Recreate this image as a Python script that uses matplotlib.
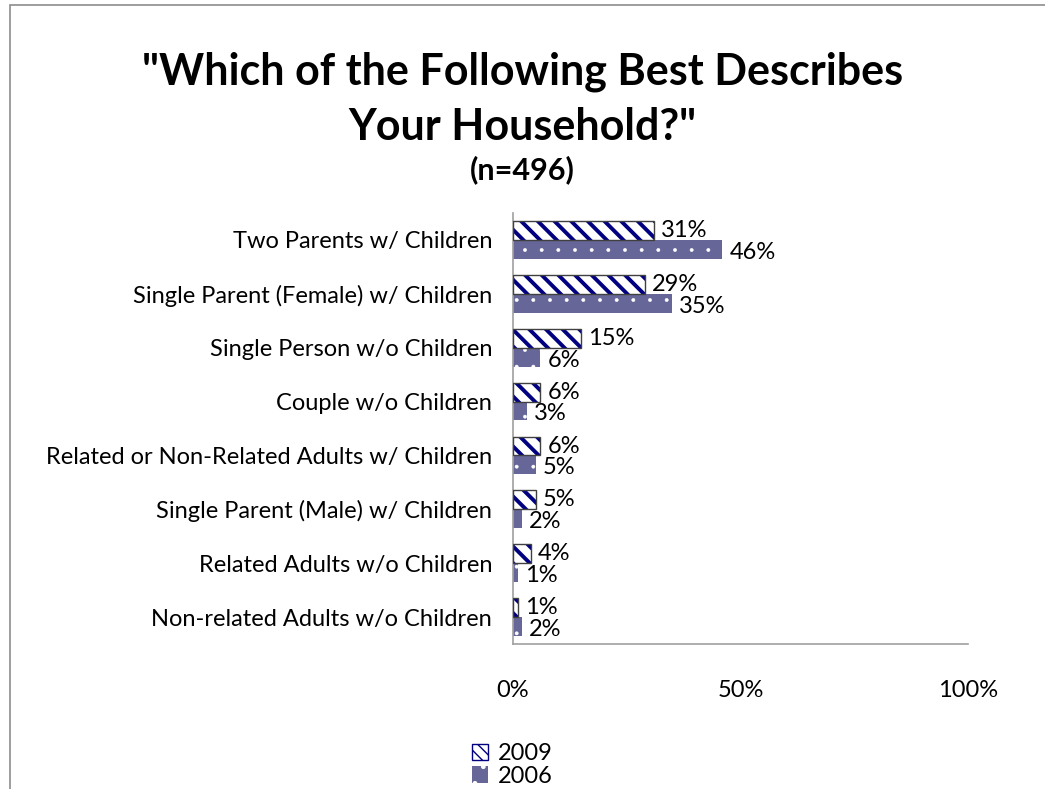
import matplotlib
matplotlib.use("Agg")
import matplotlib.pyplot as plt
import numpy as np
from matplotlib.patches import Rectangle, Patch

categories = [
    "Two Parents w/ Children",
    "Single Parent (Female) w/ Children",
    "Single Person w/o Children",
    "Couple w/o Children",
    "Related or Non-Related Adults w/ Children",
    "Single Parent (Male) w/ Children",
    "Related Adults w/o Children",
    "Non-related Adults w/o Children",
]
values_2009 = [31, 29, 15, 6, 6, 5, 4, 1]
values_2006 = [46, 35, 6, 3, 5, 2, 1, 2]
series_names = ["2009", "2006"]
tick_values = [0, 50, 100]
tick_labels = ["0%", "50%", "100%"]

FONT = ["Lato", "DejaVu Sans"]
plt.rcParams["font.family"] = FONT
FS = 17

W, H = 1045, 789
fig = plt.figure(figsize=(W / 100, H / 100), dpi=100)
ax = fig.add_axes([513 / W, 1 - 644 / H, (968 - 513) / W, (644 - 213) / H])

n = len(categories)
y = np.arange(n)
bh = 0.35
navy = "#000080"
purple = "#666699"

y09 = y - bh / 2
y06 = y + bh / 2

# 2009: white with navy diagonal stripes
with plt.rc_context({"hatch.linewidth": 2.8}):
    ax.barh(y09, values_2009, height=bh, color="white", edgecolor=navy,
            hatch="\\\\", linewidth=0, zorder=2)
    h09 = Patch(facecolor="white", edgecolor=navy, hatch="\\\\\\", linewidth=1.0)
ax.barh(y09, values_2009, height=bh, color="none", edgecolor="#404040",
        linewidth=1.0, zorder=3)
# 2006: purple with white dots
with plt.rc_context({"hatch.linewidth": 0.3}):
    ax.barh(y06, values_2006, height=bh, color=purple, edgecolor="white",
            hatch=".", linewidth=0, zorder=2)
    h06 = Patch(facecolor=purple, edgecolor="white", hatch=".", linewidth=0)

for yy, v in zip(y09, values_2009):
    ax.annotate(f"{v}%", (v, yy), xytext=(7, 0), textcoords="offset pixels",
                ha="left", va="center", fontsize=FS, color="black")
for yy, v in zip(y06, values_2006):
    ax.annotate(f"{v}%", (v, yy), xytext=(7, -3), textcoords="offset pixels",
                ha="left", va="center", fontsize=FS, color="black")

ax.set_xlim(0, 100)
ax.set_ylim(n - 0.5, -0.5)
ax.set_yticks(y)
ax.set_yticklabels(categories, fontsize=FS)
ax.set_xticks(tick_values)
ax.set_xticklabels(tick_labels, fontsize=FS)
ax.tick_params(axis="both", length=0)
ax.tick_params(axis="y", pad=15)
ax.tick_params(axis="x", pad=26)
for s in ["top", "right"]:
    ax.spines[s].set_visible(False)
for s in ["left", "bottom"]:
    ax.spines[s].set_color("#a0a0a0")
    ax.spines[s].set_linewidth(1.2)

# Titles
fig.text(0.5, 1 - 72 / H, "\"Which of the Following Best Describes",
         ha="center", va="center", fontsize=31, fontweight="bold")
fig.text(0.5, 1 - 127 / H, "Your Household?\"",
         ha="center", va="center", fontsize=31, fontweight="bold")
fig.text(0.5, 1 - 170 / H, "(n=496)",
         ha="center", va="center", fontsize=22, fontweight="bold")

# Legend
fig.legend([h09, h06], series_names, loc="center", bbox_to_anchor=(512 / W, 1 - 765 / H),
           frameon=False, fontsize=FS, handlelength=0.7, handleheight=0.7,
           handletextpad=0.4, labelspacing=0.05)

# Chart border
fig.add_artist(Rectangle((10 / W, -0.01), (W + 5) / W, 1 - 5 / H + 0.01,
                         transform=fig.transFigure, fill=False,
                         edgecolor="#8c8c8c", linewidth=1.2))

fig.savefig("out.png", dpi=100)
